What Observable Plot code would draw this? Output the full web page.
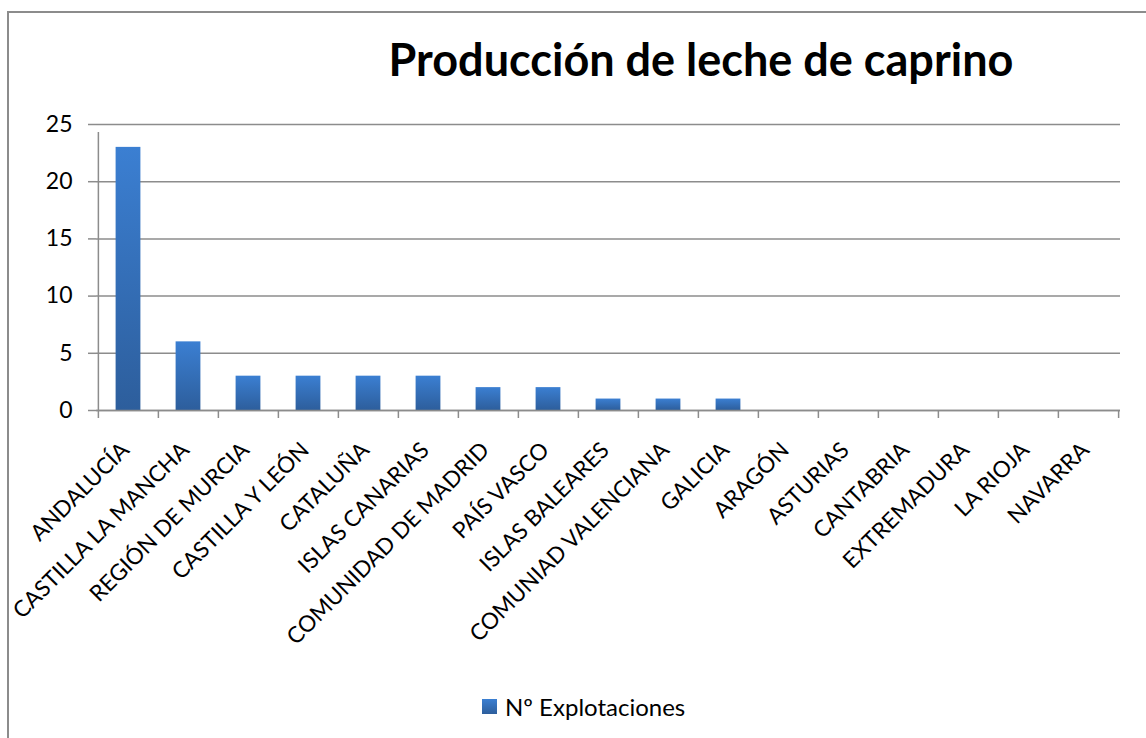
<!DOCTYPE html>
<html>
<head>
<meta charset="utf-8">
<script src="https://cdn.jsdelivr.net/npm/d3@7"></script>
<script src="https://cdn.jsdelivr.net/npm/@observablehq/plot@0.6"></script>
<style>
  html, body { margin: 0; padding: 0; background: #fff; }
  #wrap { position: relative; width: 1146px; height: 738px; overflow: hidden; font-family: Lato, "Open Sans", sans-serif; }
  #frame { position: absolute; left: 7px; top: 11px; width: 1200px; height: 800px; border-left: 2px solid #8c8c8c; border-top: 2px solid #8c8c8c; }
  #title { position: absolute; left: 0; width: 1402px; top: 32px; text-align: center; font-size: 45px; font-weight: bold; color: #000; white-space: nowrap; }
  #legend { position: absolute; left: 482px; top: 692px; display: flex; align-items: center; font-size: 24px; color: #000; }
  #legend .sw { width: 15px; height: 15px; background: linear-gradient(#3b7fd2, #2d5e9c); margin-right: 8px; }
  #chart { position: absolute; left: 0; top: 0; }
</style>
</head>
<body>
<div id="wrap">
  <div id="frame"></div>
  <div id="chart"></div>
  <div id="title">Producción de leche de caprino</div>
  <div id="legend"><div class="sw"></div><span>Nº Explotaciones</span></div>
</div>
<script>
const categories = ["ANDALUCÍA", "CASTILLA LA MANCHA", "REGIÓN DE MURCIA", "CASTILLA Y LEÓN", "CATALUÑA", "ISLAS CANARIAS", "COMUNIDAD DE MADRID", "PAÍS VASCO", "ISLAS BALEARES", "COMUNIAD VALENCIANA", "GALICIA", "ARAGÓN", "ASTURIAS", "CANTABRIA", "EXTREMADURA", "LA RIOJA", "NAVARRA"];
const values = [23, 6, 3, 3, 3, 3, 2, 2, 1, 1, 1, 0, 0, 0, 0, 0, 0];
const yTicks = [0, 5, 10, 15, 20, 25];
const seriesName = "Nº Explotaciones";

const data = categories.map((c, i) => ({region: c, value: values[i]}));

const W = 1146, H = 738;
const mLeft = 96, mRight = 26, mTop = 124, mBottom = 328;
const step = (W - mLeft - mRight) / categories.length;
const gray = "#8c8c8c";

const defs = () => {
  const d = d3.create("svg:defs");
  const g = d.append("linearGradient").attr("id", "barGrad").attr("x1", 0).attr("y1", 0).attr("x2", 0).attr("y2", 1);
  g.append("stop").attr("offset", "0%").attr("stop-color", "#3b7fd2");
  g.append("stop").attr("offset", "100%").attr("stop-color", "#2d5e9c");
  const f = d.append("filter").attr("id", "shadow").attr("x", "-20%").attr("y", "-10%").attr("width", "160%").attr("height", "130%");
  f.append("feDropShadow").attr("dx", 2).attr("dy", 1).attr("stdDeviation", 2).attr("flood-color", "#000").attr("flood-opacity", 0.25);
  return d.node();
};

const chart = Plot.plot({
  width: W,
  height: H,
  marginLeft: mLeft,
  marginRight: mRight,
  marginTop: mTop,
  marginBottom: mBottom,
  style: {fontFamily: "Lato, 'Open Sans', sans-serif", fontSize: "23px", color: "#000", background: "transparent"},
  x: {domain: categories, padding: 0, axis: null},
  y: {domain: [0, 25], ticks: yTicks},
  marks: [
    defs,
    Plot.gridY(yTicks, {stroke: gray, strokeOpacity: 1, strokeWidth: 1.5}),
    Plot.axisY(yTicks, {tickSize: 8, tickPadding: 16, stroke: gray, strokeWidth: 1.5, fontSize: 23, label: null, fill: "#000"}),
    Plot.barY(data, {x: "region", y: "value", fill: "url(#barGrad)", insetLeft: 17.6, insetRight: 17.6, filter: d => d.value > 0, style: {filter: "url(#shadow)"}}),
    Plot.ruleX([categories[0]], {x: d => d, dx: -step / 2, y1: 0, y2: 25, stroke: gray, strokeWidth: 1.5, insetBottom: -8}),
    Plot.ruleX(categories, {x: d => d, dx: -step / 2, y1: 0, y2: 0, stroke: gray, strokeWidth: 1.5, insetBottom: -8}),
    Plot.ruleX([categories[categories.length - 1]], {x: d => d, dx: step / 2, y1: 0, y2: 0, stroke: gray, strokeWidth: 1.5, insetBottom: -8}),
    Plot.ruleY([0], {stroke: gray, strokeWidth: 1.5}),
    Plot.text(categories, {x: d => d, frameAnchor: "bottom", dy: 41, dx: 2, rotate: -45, textAnchor: "end", fontSize: 22.5, fill: "#000"})
  ]
});
document.getElementById("chart").appendChild(chart);
</script>
</body>
</html>
